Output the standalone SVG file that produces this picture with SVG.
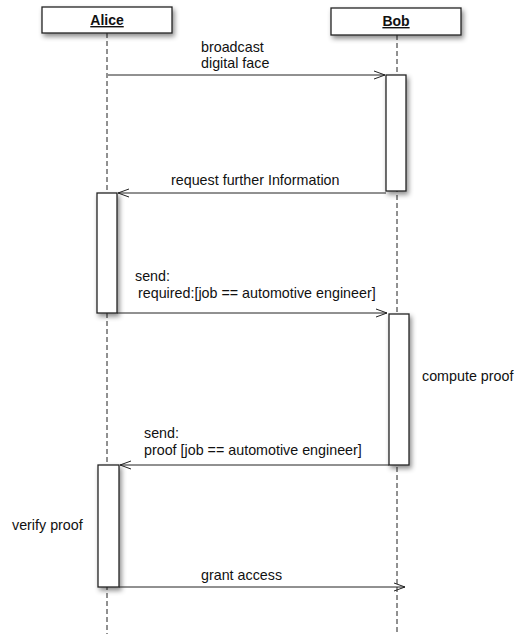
<svg xmlns="http://www.w3.org/2000/svg" width="516" height="637" viewBox="0 0 516 637">
<style>
.box{fill:#fff;stroke:#222;stroke-width:1.3;filter:url(#sh)}
.life{stroke:#222;stroke-width:1;stroke-dasharray:5 3;fill:none}
.msg{stroke:#222;stroke-width:1;fill:none}
.t{font-family:"Liberation Sans",Arial,sans-serif;font-size:14.3px;fill:#111}
.h{font-family:"Liberation Sans",Arial,sans-serif;font-size:14px;font-weight:bold;text-decoration:underline;fill:#111}
</style>
<defs>
<filter id="sh" x="-30%" y="-30%" width="180%" height="180%">
<feDropShadow dx="2" dy="3" stdDeviation="2.5" flood-color="#000" flood-opacity="0.45"/>
</filter>
<marker id="ar" markerWidth="12" markerHeight="10" refX="11" refY="5" orient="auto" markerUnits="userSpaceOnUse">
<polyline points="0,1 11,5 0,9" fill="none" stroke="#222" stroke-width="1"/>
</marker>
</defs>
<g id="lifelines">
<line class="life" x1="107" y1="33" x2="107" y2="634"/>
<line class="life" x1="397" y1="35" x2="397" y2="634"/>
</g>
<g id="alice">
<rect class="box" x="42" y="7" width="130" height="26"/>
<text class="h" x="107" y="25" text-anchor="middle">Alice</text>
</g>
<g id="bob">
<rect class="box" x="331" y="8" width="130" height="27"/>
<text class="h" x="396" y="26" text-anchor="middle">Bob</text>
</g>
<g id="bob-act1"><rect class="box" x="386" y="75" width="20" height="116"/></g>
<g id="alice-act1"><rect class="box" x="97" y="193" width="20" height="120"/></g>
<g id="bob-act2"><rect class="box" x="389" y="314" width="20" height="151"/></g>
<g id="alice-act2"><rect class="box" x="98" y="465" width="21" height="122"/></g>
<g id="connectors">
<line class="msg" x1="108" y1="75" x2="385" y2="75" marker-end="url(#ar)"/>
<line class="msg" x1="386" y1="193" x2="118" y2="193" marker-end="url(#ar)"/>
<line class="msg" x1="117" y1="313" x2="387" y2="313" marker-end="url(#ar)"/>
<line class="msg" x1="389" y1="465" x2="120" y2="465" marker-end="url(#ar)"/>
<line class="msg" x1="119" y1="587" x2="405" y2="587" marker-end="url(#ar)"/>
</g>
<g id="labels">
<text class="t" x="201" y="52">broadcast</text>
<text class="t" x="201" y="68">digital face</text>
<text class="t" x="171" y="185">request further Information</text>
<text class="t" x="135" y="281">send:</text>
<text class="t" x="138" y="298">required:[job == automotive engineer]</text>
<text class="t" x="422" y="381">compute proof</text>
<text class="t" x="144" y="438">send:</text>
<text class="t" x="144" y="455">proof [job == automotive engineer]</text>
<text class="t" x="12" y="530">verify proof</text>
<text class="t" x="201" y="580">grant access</text>
</g>
</svg>
